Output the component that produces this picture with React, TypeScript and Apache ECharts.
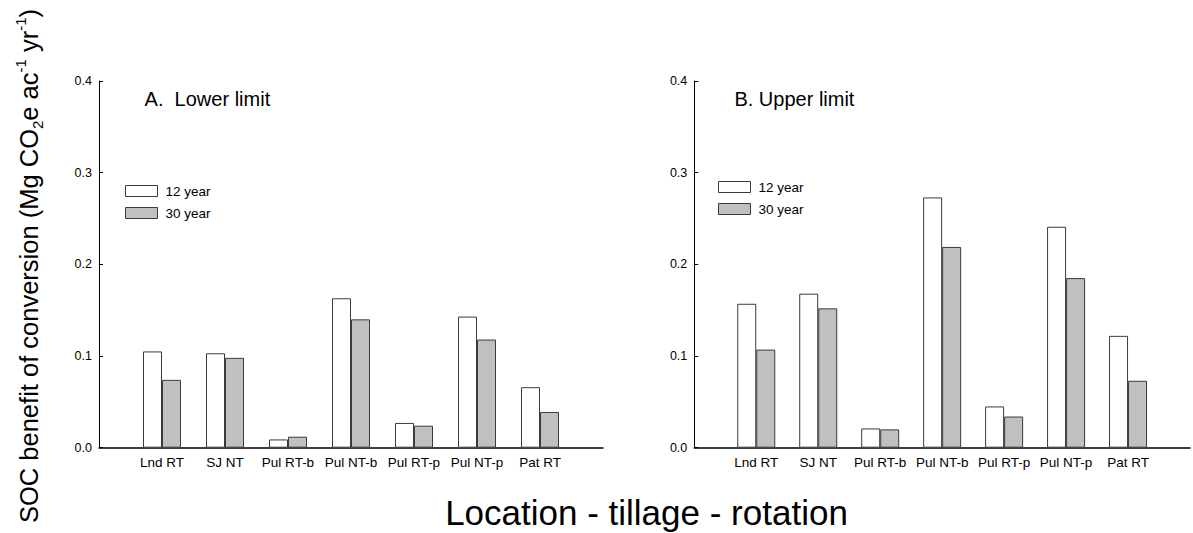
import React, { useEffect, useRef } from "react";
import * as echarts from "echarts";

const categories = ["Lnd RT", "SJ NT", "Pul RT-b", "Pul NT-b", "Pul RT-p", "Pul NT-p", "Pat RT"];
const lower12 = [0.105, 0.103, 0.009, 0.163, 0.027, 0.143, 0.066];
const lower30 = [0.074, 0.098, 0.012, 0.140, 0.024, 0.118, 0.039];
const upper12 = [0.157, 0.168, 0.021, 0.273, 0.045, 0.241, 0.122];
const upper30 = [0.107, 0.152, 0.020, 0.219, 0.034, 0.185, 0.073];
const seriesNames = ["12 year", "30 year"];
const yMin = 0;
const yMax = 0.4;
const yStep = 0.1;

const FONT = "'Liberation Sans', Arial, Helvetica, sans-serif";

export default function App() {
  const ref = useRef<HTMLDivElement>(null);

  useEffect(() => {
    if (!ref.current) return;
    const chart = echarts.init(ref.current, undefined, { renderer: "svg" });

    const axisCats = ["", ...categories, ""];
    const pad = (arr: number[]) => ["-", ...arr, "-"];

    const gridTop = 81;
    const gridH = 366.7;
    const gridW = 504;

    const xAxisBase = (gi: number) => ({
      type: "category",
      gridIndex: gi,
      data: axisCats,
      boundaryGap: false,
      axisTick: { show: false },
      axisLine: { show: true, lineStyle: { color: "#000", width: 1.5 } },
      axisLabel: { interval: 0, fontSize: 13.5, color: "#000", fontFamily: FONT, margin: 8 },
      splitLine: { show: false },
    });
    const yAxisBase = (gi: number) => ({
      type: "value",
      gridIndex: gi,
      min: yMin,
      max: yMax,
      interval: yStep,
      axisLine: { show: true, lineStyle: { color: "#000", width: 1 } },
      axisTick: { show: true, inside: true, length: 4, lineStyle: { color: "#000" } },
      axisLabel: {
        fontSize: 12.5,
        color: "#000",
        fontFamily: FONT,
        margin: 7,
        formatter: (v: number) => v.toFixed(1),
      },
      splitLine: { show: false },
    });

    const whiteStyle = { color: "#ffffff", borderColor: "#3a3a3a", borderWidth: 1 };
    const greyStyle = { color: "#c0c0c0", borderColor: "#3a3a3a", borderWidth: 1 };

    const bar = (name: string, data: number[], gi: number, style: any) => ({
      type: "bar",
      name,
      xAxisIndex: gi,
      yAxisIndex: gi,
      data: pad(data),
      barWidth: 19,
      barGap: "0%",
      itemStyle: style,
    });

    const legendBase = (left: number, top: number) => ({
      left,
      top,
      orient: "vertical",
      padding: 0,
      itemWidth: 32,
      itemHeight: 11,
      itemGap: 8,
      icon: "rect",
      selectedMode: false,
      data: seriesNames,
      itemStyle: { borderWidth: 1, borderColor: "#3a3a3a" },
      textStyle: { fontSize: 13.5, color: "#000", fontFamily: FONT, lineHeight: 11, padding: [0, 0, 0, 3] },
    });

    chart.setOption({
      animation: false,
      backgroundColor: "#ffffff",
      grid: [
        { left: 99, top: gridTop, width: gridW, height: gridH },
        { left: 694.3, top: gridTop, width: gridW, height: gridH },
      ],
      xAxis: [xAxisBase(0), xAxisBase(1)],
      yAxis: [yAxisBase(0), yAxisBase(1)],
      legend: [legendBase(125, 184), legendBase(718, 180)],
      series: [
        bar(seriesNames[0], lower12, 0, whiteStyle),
        bar(seriesNames[1], lower30, 0, greyStyle),
        bar(seriesNames[0], upper12, 1, whiteStyle),
        bar(seriesNames[1], upper30, 1, greyStyle),
      ],
      graphic: [
        {
          type: "text",
          x: 144.6,
          y: 99,
          style: { text: "A.  Lower limit", fontSize: 20, fontFamily: FONT, fill: "#000", verticalAlign: "middle" },
        },
        {
          type: "text",
          x: 734.4,
          y: 99,
          style: { text: "B. Upper limit", fontSize: 20, fontFamily: FONT, fill: "#000", verticalAlign: "middle" },
        },
        {
          type: "text",
          x: 646.5,
          y: 512,
          style: {
            text: "Location - tillage - rotation",
            fontSize: 35,
            fontFamily: FONT,
            fill: "#000",
            align: "center",
            verticalAlign: "middle",
          },
        },
        {
          type: "text",
          x: 29,
          y: 266,
          rotation: Math.PI / 2,
          style: {
            text: "SOC benefit of conversion (Mg CO{sub|2}e ac{sup|-1} yr{sup|-1})",
            fontSize: 25.5,
            lineHeight: 32,
            fontFamily: FONT,
            fill: "#000",
            align: "center",
            verticalAlign: "middle",
            rich: {
              sub: { fontSize: 15, lineHeight: 15, verticalAlign: "bottom", fontFamily: FONT, fill: "#000" },
              sup: { fontSize: 15, lineHeight: 15, verticalAlign: "top", fontFamily: FONT, fill: "#000" },
            },
          },
        },
      ],
    });

    return () => chart.dispose();
  }, []);

  return (
    <div
      ref={ref}
      style={{ position: "absolute", left: 0, top: 0, width: 1193, height: 533, background: "#fff" }}
    />
  );
}
